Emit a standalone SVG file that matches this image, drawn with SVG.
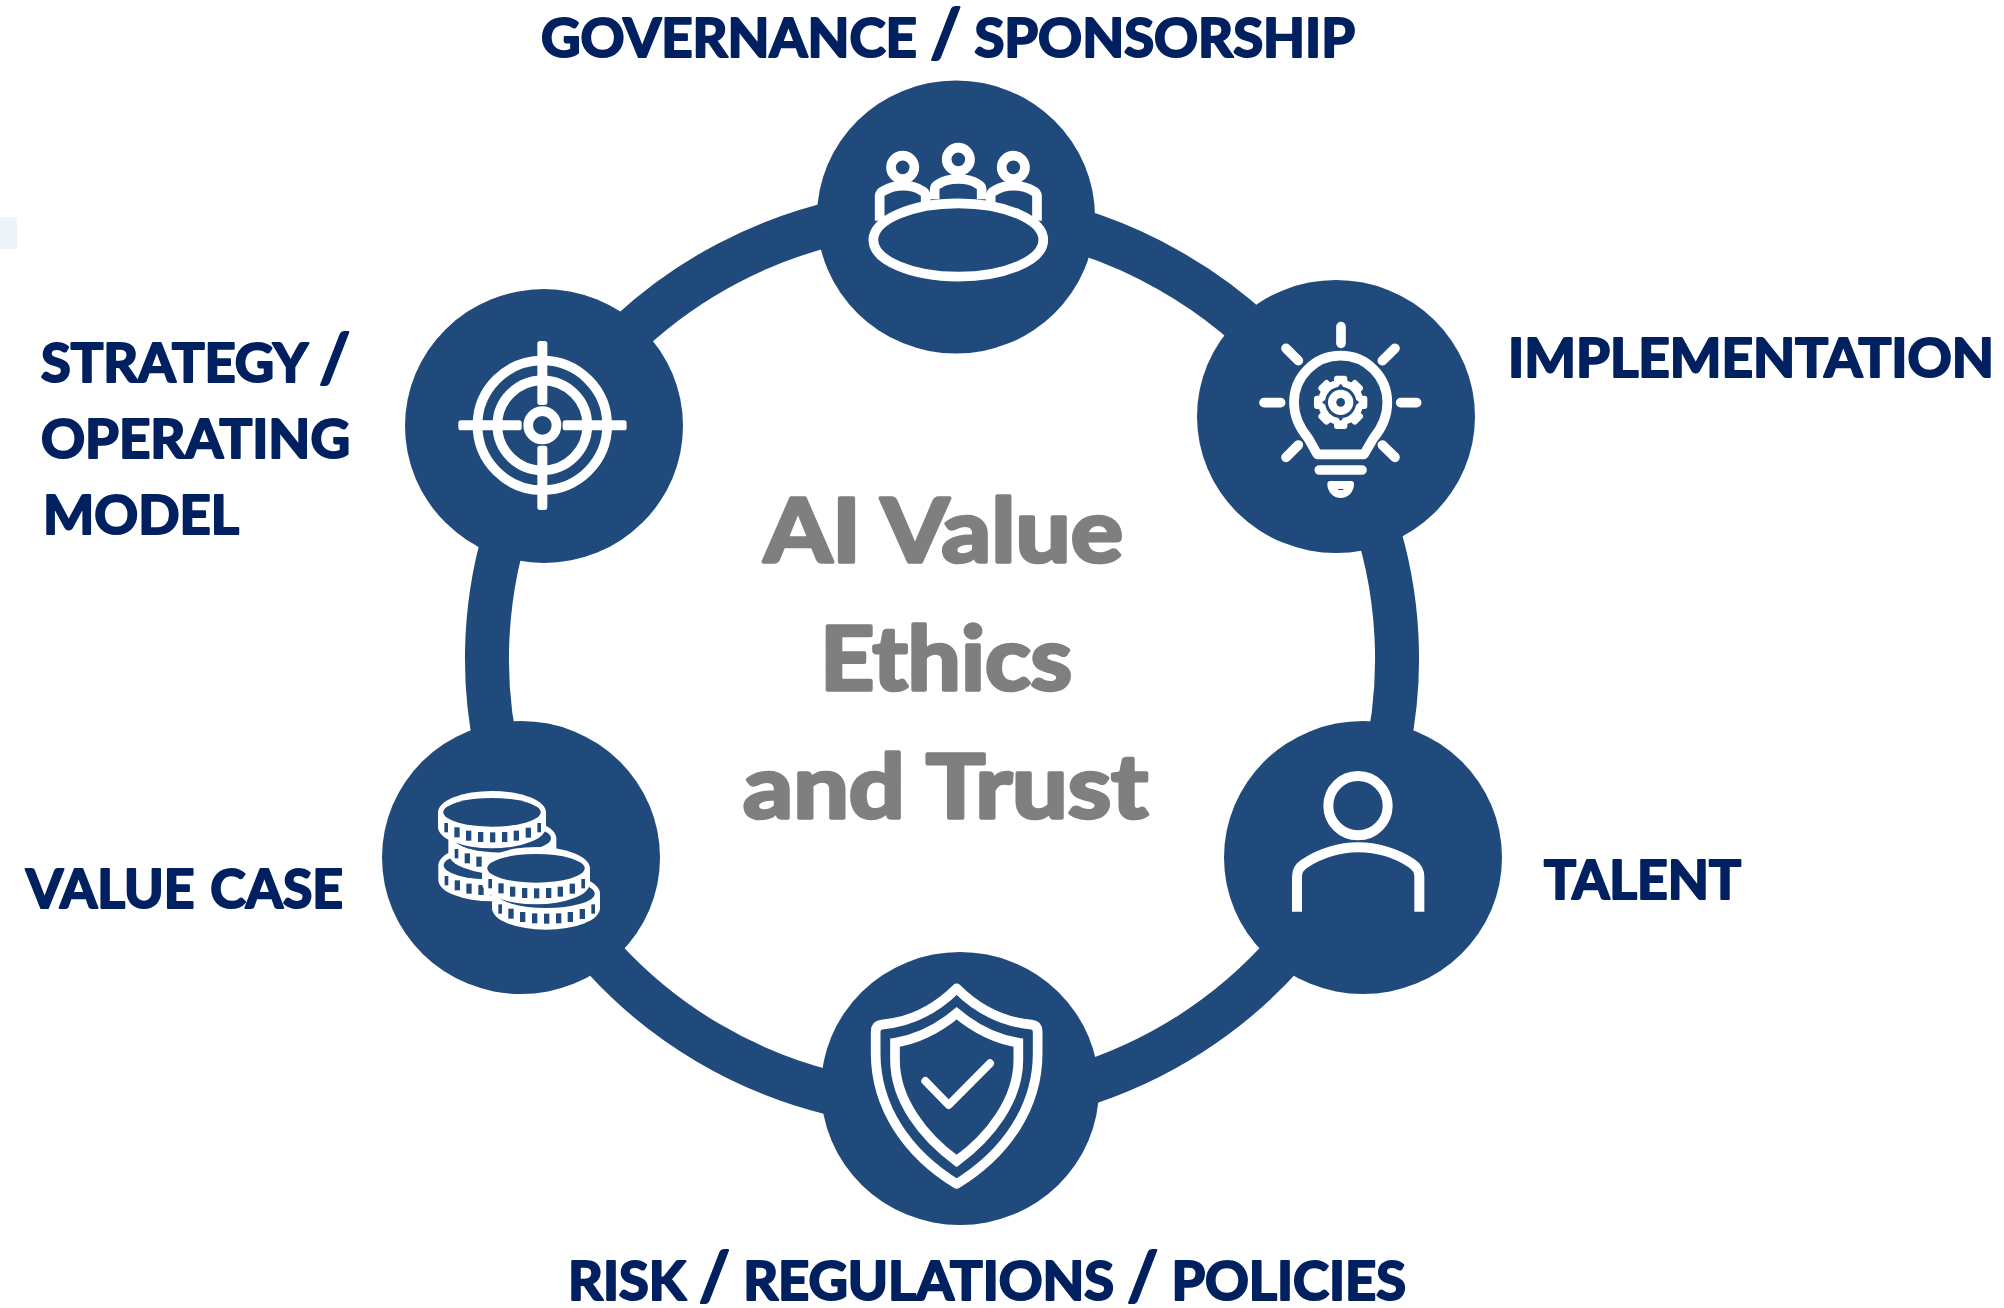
<svg xmlns="http://www.w3.org/2000/svg" xmlns:xlink="http://www.w3.org/1999/xlink" width="2004" height="1308" viewBox="0 0 2004 1308">
<style>
.disc{fill:#204a7c}
.arc{fill:none;stroke:#204a7c;stroke-width:44}
.lbl{font-family:Lato,"Open Sans","Liberation Sans",sans-serif;font-weight:700;font-size:54px;fill:#002060;stroke:#002060;stroke-width:2.2;stroke-linejoin:round}
.sl{font-size:66px}
.mid{font-family:Lato,"Open Sans","Liberation Sans",sans-serif;font-weight:700;font-size:88px;fill:#7f7f7f;stroke:#7f7f7f;stroke-width:3.6;stroke-linejoin:round}
.ic{fill:none;stroke:#fff;stroke-width:29;stroke-linejoin:round}
.w{fill:#fff}
.b{fill:#204a7c}
</style>
<defs>
<g id="coin">
<path class="w" d="M-162 0A162 64 0 0 1 162 0V44A162 64 0 0 1-162 44Z"/>
<ellipse class="b" cx="0" cy="0" rx="146" ry="43"/>
<g class="b">
<rect x="-143" y="32" width="11" height="28"/><rect x="-113" y="45" width="16" height="30"/><rect x="-78" y="55" width="16" height="30"/><rect x="-42" y="59" width="16" height="30"/><rect x="-6" y="60" width="16" height="30"/><rect x="30" y="59" width="16" height="30"/><rect x="65" y="55" width="16" height="30"/><rect x="101" y="46" width="16" height="30"/><rect x="136" y="32" width="11" height="28"/>
</g>
</g>
</defs>
<rect id="swatch" x="0" y="217" width="17" height="32" fill="#eef3f8"/>
<g id="connectors">
<path class="arc" d="M958 210.8A455 448 0 0 1 1327.9 421.1"/>
<path class="arc" d="M1327.9 421.1A455 448 0 0 1 1351 854.9"/>
<path class="arc" d="M1351 854.9A455 448 0 0 1 958 1106.2"/>
<path class="arc" d="M958 1106.2A455 448 0 0 1 533 854.9"/>
<path class="arc" d="M533 854.9A455 448 0 0 1 556.1 421.1"/>
<path class="arc" d="M556.1 421.1A455 448 0 0 1 958 210.8"/>
</g>
<g id="center-title">
<text class="mid" x="764" y="562" textLength="359" lengthAdjust="spacingAndGlyphs">AI Value</text>
<text class="mid" x="820" y="690" textLength="252" lengthAdjust="spacingAndGlyphs">Ethics</text>
<text class="mid" x="743" y="818" textLength="405" lengthAdjust="spacingAndGlyphs">and Trust</text>
</g>
<g id="node-governance">
<ellipse class="disc" cx="956" cy="217" rx="139" ry="136.5"/>
<g transform="translate(780 70) scale(.33333)">
<g class="ic">
<circle cx="368" cy="292" r="35"/><circle cx="535" cy="268" r="35"/><circle cx="700" cy="292" r="35"/>
<path d="M299 452V378Q299 368 312 362C345 342 395 342 425 362Q437 368 437 378V402"/>
<path d="M464 388V358Q464 348 476 342C505 322 565 322 593 342Q605 348 605 358V388"/>
<path d="M632 402V378Q632 368 644 362C675 342 725 342 758 362Q771 368 771 378V452"/>
<ellipse cx="535" cy="510" rx="255" ry="110"/>
</g>
</g>
<text class="lbl" x="541" y="57" textLength="814" lengthAdjust="spacingAndGlyphs">GOVERNANCE <tspan class="sl">/</tspan> SPONSORSHIP</text>
</g>
<g id="node-implementation">
<ellipse class="disc" cx="1336" cy="416.5" rx="139" ry="136.5"/>
<g transform="translate(1180 270) scale(.33333)">
<g class="ic" stroke-linecap="round">
<path d="M483 170V220M252 398H302M662 398H710M318 235L355 272M645 235L607 272M318 562L355 525M645 562L607 525M418 600H546"/>
<path d="M412 553L385 505C355 470 342 435 342 397A140 140 0 0 1 622 397C622 435 610 470 580 505L552 553Z"/>
</g>
<path class="w" d="M442 642Q442 633 451 633H513Q522 633 522 642A40 42 0 0 1 442 642Z"/>
<rect class="b" x="474" y="657" width="16" height="3"/>
<g transform="translate(482 397)">
<circle class="w" r="68"/>
<g class="w">
<rect x="-20" y="-80" width="40" height="30" rx="9"/>
<rect x="-20" y="-80" width="40" height="30" rx="9" transform="rotate(45)"/>
<rect x="-20" y="-80" width="40" height="30" rx="9" transform="rotate(90)"/>
<rect x="-20" y="-80" width="40" height="30" rx="9" transform="rotate(135)"/>
<rect x="-20" y="-80" width="40" height="30" rx="9" transform="rotate(180)"/>
<rect x="-20" y="-80" width="40" height="30" rx="9" transform="rotate(225)"/>
<rect x="-20" y="-80" width="40" height="30" rx="9" transform="rotate(270)"/>
<rect x="-20" y="-80" width="40" height="30" rx="9" transform="rotate(315)"/>
</g>
<circle class="b" r="47"/>
<g class="b">
<path d="M-8-46L0-56L8-46Z"/><path d="M-8-46L0-56L8-46Z" transform="rotate(90)"/><path d="M-8-46L0-56L8-46Z" transform="rotate(180)"/><path d="M-8-46L0-56L8-46Z" transform="rotate(270)"/>
</g>
<circle class="w" r="38"/>
<circle class="b" r="13"/>
</g>
</g>
<text class="lbl" x="1508" y="376.5" textLength="486" lengthAdjust="spacingAndGlyphs">IMPLEMENTATION</text>
</g>
<g id="node-talent">
<ellipse class="disc" cx="1363" cy="857.5" rx="139" ry="136.5"/>
<g transform="translate(1220 720) scale(.33333)">
<g class="ic">
<circle cx="414" cy="257" r="89" stroke-width="30"/>
<path d="M231 575V470Q231 445 255 430C300 400 360 382 414 382C470 382 530 400 575 430Q598 445 598 470V575" stroke-width="30"/>
</g>
</g>
<text class="lbl" x="1544" y="899" textLength="197" lengthAdjust="spacingAndGlyphs">TALENT</text>
</g>
<g id="node-risk">
<ellipse class="disc" cx="960" cy="1088.5" rx="139" ry="136.5"/>
<g transform="translate(810 950) scale(.33333)">
<g class="ic">
<path d="M440 115C500 175 570 215 665 224Q683 226 683 245V310C683 470 590 610 440 702C290 610 197 470 197 310V245Q197 226 215 224C310 215 380 175 440 115Z"/>
<path d="M440 190C500 240 560 268 625 278V330C625 450 540 560 440 633C340 560 255 450 255 330V278C320 268 380 240 440 190Z" stroke-linejoin="miter"/>
<path d="M346 393L416 465L540 340" stroke-width="24" stroke-linecap="round"/>
</g>
</g>
<text class="lbl" x="568" y="1300" textLength="838" lengthAdjust="spacingAndGlyphs">RISK <tspan class="sl">/</tspan> REGULATIONS <tspan class="sl">/</tspan> POLICIES</text>
</g>
<g id="node-value-case">
<ellipse class="disc" cx="521" cy="857.5" rx="139" ry="136.5"/>
<g transform="translate(380 720) scale(.33333)">
<use xlink:href="#coin" href="#coin" transform="translate(337 436)"/>
<use xlink:href="#coin" href="#coin" transform="translate(367 355)"/>
<use xlink:href="#coin" href="#coin" transform="translate(336 277)"/>
<use xlink:href="#coin" href="#coin" transform="translate(498 521)"/>
<use xlink:href="#coin" href="#coin" transform="translate(468 445)"/>
</g>
<text class="lbl" x="26" y="908" textLength="317" lengthAdjust="spacingAndGlyphs" word-spacing="3">VALUE CASE</text>
</g>
<g id="node-strategy">
<ellipse class="disc" cx="544" cy="426" rx="139" ry="137"/>
<g transform="translate(400 280) scale(.33333)">
<g class="ic">
<circle cx="427" cy="436" r="194.5"/><circle cx="427" cy="436" r="135"/><circle cx="427" cy="436" r="42.5"/>
</g>
<g class="w">
<rect x="412" y="183" width="30" height="192" rx="8"/><rect x="412" y="497" width="30" height="193" rx="8"/>
<rect x="175" y="421" width="190" height="30" rx="8"/><rect x="488" y="421" width="192" height="30" rx="8"/>
</g>
</g>
<text class="lbl" x="41" y="381.5" textLength="309" lengthAdjust="spacingAndGlyphs">STRATEGY <tspan class="sl">/</tspan></text>
<text class="lbl" x="41" y="457.5" textLength="309" lengthAdjust="spacingAndGlyphs">OPERATING</text>
<text class="lbl" x="43" y="534" textLength="196" lengthAdjust="spacingAndGlyphs">MODEL</text>
</g>
</svg>
